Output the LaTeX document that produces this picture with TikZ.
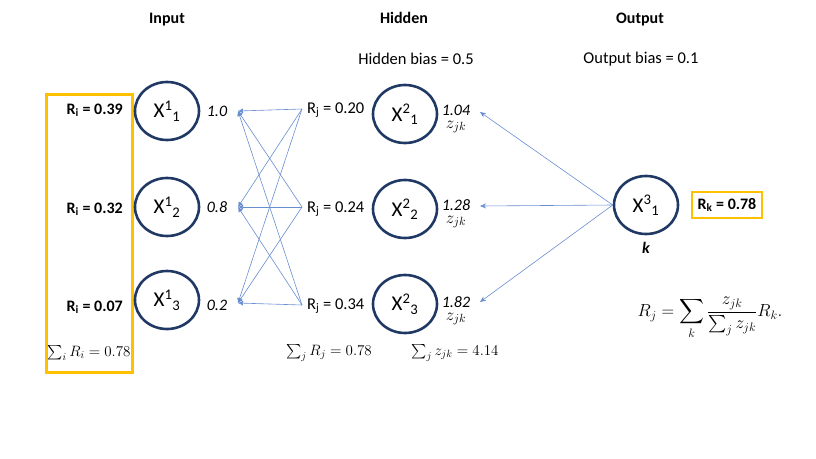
\RequirePackage{fix-cm}
\documentclass[tikz,border=0pt]{standalone}
\usepackage{amsmath}
\usepackage{fontspec}
\setmainfont{Carlito}
\usetikzlibrary{shapes.geometric,arrows.meta}
\definecolor{navy}{HTML}{203864}
\definecolor{gold}{HTML}{FFC000}
\definecolor{edgeblue}{HTML}{4472C4}

\begin{document}
\begin{tikzpicture}[x=1pt,y=-1pt,
  neuron/.style={ellipse,draw=navy,line width=2.6pt,minimum width=64pt,
    minimum height=58pt,inner sep=0pt,font=\fontsize{21}{25}\selectfont},
  heading/.style={font=\fontsize{16}{19}\selectfont\bfseries,anchor=base,inner sep=0pt},
  lbl/.style={font=\fontsize{16.5}{19}\selectfont,inner sep=0pt},
  boldlbl/.style={font=\fontsize{16}{19}\selectfont\bfseries,inner sep=0pt},
  vallbl/.style={font=\fontsize{16}{19}\selectfont\itshape,inner sep=0pt},
  mathlbl/.style={font=\fontsize{15}{18}\selectfont,inner sep=0pt},
  goldbox/.style={draw=gold,line width=3pt},
  wire/.style={draw=edgeblue!80,line width=0.6pt},
  backtip/.style={wire,-{Latex[length=5pt,width=5pt]}},
  outtip/.style={wire,-{Stealth[length=6pt,width=5pt]}}
]
\useasboundingbox (0,0) rectangle (816,458);

% layer headings
\node[heading] (hin)  at (167,23) {Input};
\node[heading] (hhid) at (404,23) {Hidden};
\node[heading] (hout) at (640,23) {Output};
\node[lbl] (hbias) at (416,59) {Hidden bias = 0.5};
\node[lbl] (obias) at (641,59) {Output bias = 0.1};

% input relevance box
\draw[goldbox] (46,94) rectangle (132,372);
\node[boldlbl,anchor=east] (ri1) at (123,110) {R\textsubscript{i} = 0.39};
\node[boldlbl,anchor=east] (ri2) at (123,209) {R\textsubscript{i} = 0.32};
\node[boldlbl,anchor=east] (ri3) at (123,307) {R\textsubscript{i} = 0.07};
\node[mathlbl] (sumi) at (89,353) {$\sum_i R_i = 0.78$};

% input neurons
\node[neuron] (x1) at (167,111) {X\textsuperscript{1}\textsubscript{1}};
\node[neuron] (x2) at (167,207) {X\textsuperscript{1}\textsubscript{2}};
\node[neuron] (x3) at (167,300) {X\textsuperscript{1}\textsubscript{3}};
\node[vallbl] (v1) at (217,111) {1.0};
\node[vallbl] (v2) at (217,207) {0.8};
\node[vallbl] (v3) at (217,305) {0.2};

% ends of the relevance wires
\coordinate (a1) at (238,111);
\coordinate (a2) at (238,207);
\coordinate (a3) at (238,303);
\coordinate (b1) at (302,109);
\coordinate (b2) at (302,207);
\coordinate (b3) at (302,305);
\foreach \s in {1,2,3}{
  \foreach \t in {1,2,3}{
    \draw[backtip] (b\s) -- (a\t);
  }
}

% hidden layer
\node[lbl,anchor=west] (rj1) at (307,110) {R\textsubscript{j} = 0.20};
\node[lbl,anchor=west] (rj2) at (307,209) {R\textsubscript{j} = 0.24};
\node[lbl,anchor=west] (rj3) at (307,306) {R\textsubscript{j} = 0.34};
\node[neuron] (h1) at (405,114) {X\textsuperscript{2}\textsubscript{1}};
\node[neuron] (h2) at (405,209) {X\textsuperscript{2}\textsubscript{2}};
\node[neuron] (h3) at (405,304) {X\textsuperscript{2}\textsubscript{3}};
\node[vallbl] (z1) at (456,110) {1.04};
\node[vallbl] (z2) at (456,205) {1.28};
\node[vallbl] (z3) at (456,302) {1.82};
\node[mathlbl,font=\fontsize{17}{20}\selectfont] (zl1) at (456,127) {$z_{jk}$};
\node[mathlbl,font=\fontsize{17}{20}\selectfont] (zl2) at (456,222) {$z_{jk}$};
\node[mathlbl,font=\fontsize{17}{20}\selectfont] (zl3) at (456,319) {$z_{jk}$};
\node[mathlbl] (sumj) at (329,353) {$\sum_j R_j = 0.78$};
\node[mathlbl] (sumz) at (455,353) {$\sum_j z_{jk} = 4.14$};

% output neuron
\node[neuron] (o1) at (646,205) {X\textsuperscript{3}\textsubscript{1}};
\node[font=\fontsize{16}{19}\selectfont\bfseries\itshape] (klbl) at (646,248) {k};
\node[boldlbl,draw=gold,line width=2.5pt,minimum width=70pt,minimum height=26pt] (rk) at (727,205) {R\textsubscript{k} = 0.78};

\coordinate (t1) at (480,112);
\coordinate (t2) at (480,206);
\coordinate (t3) at (480,302);
\foreach \t in {1,2,3}{
  \draw[outtip] (o1.west) -- (t\t);
}

% relevance rule
\node[font=\fontsize{17.5}{21}\selectfont] (rule) at (710,318)
  {$\displaystyle R_j = \sum_k \frac{z_{jk}}{\sum_j z_{jk}} R_k.$};
\end{tikzpicture}
\end{document}
